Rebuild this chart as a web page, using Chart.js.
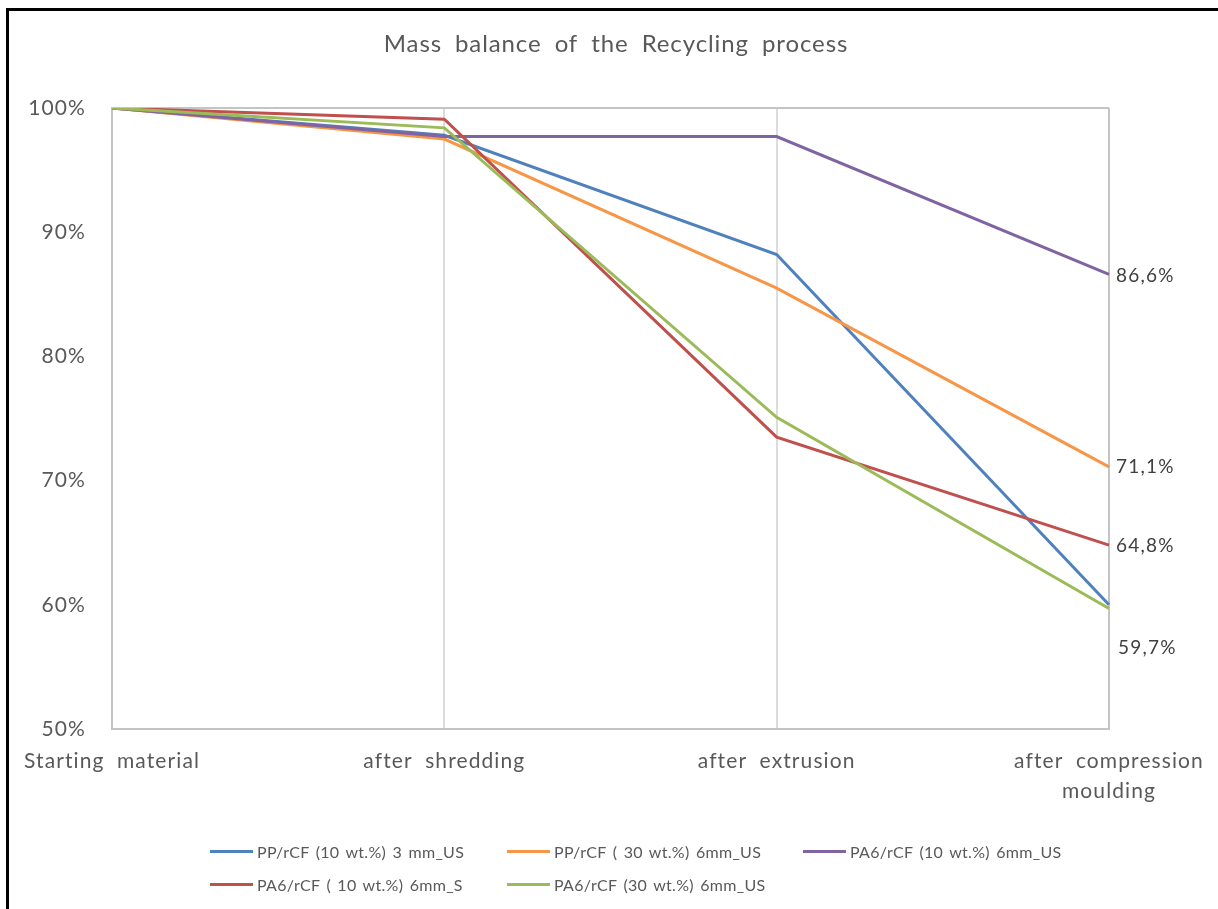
<!DOCTYPE html>
<html>
<head>
<meta charset="utf-8">
<script src="https://cdn.jsdelivr.net/npm/chart.js@4"></script>
<style>
  html, body { margin: 0; padding: 0; background: #fff; }
  #wrap { position: relative; width: 1218px; height: 909px; overflow: hidden; }
  #frame { position: absolute; left: 6px; top: 8px; width: 1300px; height: 1000px;
           border-left: 3px solid #000; border-top: 3px solid #000; box-sizing: border-box; pointer-events: none; }
  #chart { position: absolute; left: 0; top: 0; }
  #legend { position: absolute; left: 0; top: 0; width: 1218px; height: 909px; pointer-events: none;
            font-family: Lato, "Noto Sans", sans-serif; font-size: 16px; color: #595959;
            letter-spacing: 0.3px; word-spacing: 2px; }
  .item { position: absolute; display: flex; align-items: center; white-space: nowrap; }
  .swatch { width: 43px; height: 3px; margin-right: 4px; }
</style>
</head>
<body>
<div id="wrap">
  <canvas id="chart" width="1218" height="909"></canvas>
  <div id="legend"></div>
  <div id="frame"></div>
</div>
<script>
// Process stages along the x axis
const stages = ['Starting material', 'after shredding', 'after extrusion', ['after compression', 'moulding']];

// Remaining mass (%) after each stage, one array per material
const ppCf10_3mmUS  = [100, 97.8, 88.2, 60.0];
const ppCf30_6mmUS  = [100, 97.5, 85.5, 71.1];
const pa6Cf10_6mmUS = [100, 97.7, 97.7, 86.6];
const pa6Cf10_6mmS  = [100, 99.1, 73.5, 64.8];
const pa6Cf30_6mmUS = [100, 98.4, 75.1, 59.7];

const seriesNames = [
  'PP/rCF (10 wt.%) 3 mm_US',
  'PP/rCF ( 30 wt.%) 6mm_US',
  'PA6/rCF (10 wt.%) 6mm_US',
  'PA6/rCF ( 10 wt.%) 6mm_S',
  'PA6/rCF (30 wt.%) 6mm_US'
];
const seriesValues = [ppCf10_3mmUS, ppCf30_6mmUS, pa6Cf10_6mmUS, pa6Cf10_6mmS, pa6Cf30_6mmUS];
const yTicks = [50, 60, 70, 80, 90, 100];
const chartTitle = 'Mass balance of the Recycling process';

// Presentation
const colors = ['#4F81BD', '#F79646', '#8064A2', '#C0504D', '#9BBB59'];
// End-of-line value labels: which series get one, and their offset from the last point
const endLabels = [null, { dx: 7, dy: 0 }, { dx: 7, dy: 1 }, { dx: 7, dy: 1 }, { dx: 9, dy: 39 }];

const FONT = 'Lato, "Noto Sans", sans-serif';
const TEXT = '#595959';

const fmtPct = v => v.toFixed(1).replace('.', ',') + '%';

// Glyph spacing for axis text, plus the chart title
const textStylePlugin = {
  id: 'textStyle',
  beforeDraw(chart) {
    chart.ctx.letterSpacing = '1.1px';
    chart.ctx.wordSpacing = '6px';
  },
  afterDraw(chart) {
    const ctx = chart.ctx;
    ctx.save();
    ctx.font = '24px ' + FONT;
    ctx.letterSpacing = '0.9px';
    ctx.wordSpacing = '6px';
    ctx.fillStyle = TEXT;
    ctx.textAlign = 'center';
    ctx.textBaseline = 'middle';
    ctx.fillText(chartTitle, 616, 44);
    ctx.restore();
  }
};

const endLabelPlugin = {
  id: 'endLabels',
  afterDatasetsDraw(chart) {
    const ctx = chart.ctx;
    ctx.save();
    ctx.font = '19px ' + FONT;
    ctx.letterSpacing = '1.2px';
    ctx.fillStyle = '#404040';
    ctx.textAlign = 'left';
    ctx.textBaseline = 'middle';
    chart.data.datasets.forEach((ds, i) => {
      const lab = endLabels[i];
      if (!lab) return;
      const meta = chart.getDatasetMeta(i);
      const last = meta.data.length - 1;
      const pt = meta.data[last];
      ctx.fillText(fmtPct(ds.data[last]), pt.x + lab.dx, pt.y + lab.dy);
    });
    ctx.restore();
  }
};

const chart = new Chart(document.getElementById('chart'), {
  type: 'line',
  data: {
    labels: stages,
    datasets: seriesValues.map((vals, i) => ({
      label: seriesNames[i],
      data: vals,
      borderColor: colors[i],
      backgroundColor: colors[i],
      borderWidth: 3,
      pointRadius: 0,
      tension: 0,
      fill: false,
      order: seriesValues.length - i
    }))
  },
  options: {
    responsive: false,
    animation: false,
    layout: { padding: { left: 0, right: 109, top: 108, bottom: 100 } },
    plugins: {
      legend: { display: false },
      tooltip: { enabled: false },
      title: { display: false }
    },
    scales: {
      x: {
        type: 'category',
        offset: false,
        grid: {
          display: true,
          drawTicks: false,
          color: c => (c.index === 0 || c.index === stages.length - 1) ? '#c4c4c4' : '#dcdcdc',
          lineWidth: 2
        },
        border: { display: true, color: '#c4c4c4', width: 2 },
        ticks: {
          color: TEXT,
          font: { family: FONT, size: 21, lineHeight: 1.45 },
          padding: 17,
          maxRotation: 0,
          autoSkip: false
        },
        afterFit(s) { s.height = 80; s.paddingLeft = 0; s.paddingRight = 0; }
      },
      y: {
        min: 50,
        max: 100,
        afterBuildTicks(s) { s.ticks = yTicks.map(v => ({ value: v })); },
        grid: {
          display: true,
          drawTicks: false,
          color: c => (c.tick && c.tick.value === 100) ? '#c4c4c4' : 'rgba(0,0,0,0)',
          lineWidth: 2
        },
        border: { display: true, color: '#c4c4c4', width: 2 },
        ticks: {
          color: TEXT,
          font: { family: FONT, size: 21 },
          padding: 26,
          callback: v => v + '%'
        },
        afterFit(s) { s.width = 112; s.paddingTop = 0; s.paddingBottom = 0; }
      }
    }
  },
  plugins: [textStylePlugin, endLabelPlugin]
});

// Legend laid out in fixed columns, two rows
const legendPos = [
  { x: 210, y: 851 }, { x: 507, y: 851 }, { x: 803, y: 851 },
  { x: 210, y: 884 }, { x: 507, y: 884 }
];
const legendEl = document.getElementById('legend');
seriesNames.forEach((name, i) => {
  const item = document.createElement('div');
  item.className = 'item';
  item.style.left = legendPos[i].x + 'px';
  item.style.top = (legendPos[i].y - 11) + 'px';
  item.style.height = '22px';
  const sw = document.createElement('span');
  sw.className = 'swatch';
  sw.style.background = colors[i];
  const tx = document.createElement('span');
  tx.textContent = name;
  item.appendChild(sw);
  item.appendChild(tx);
  legendEl.appendChild(item);
});
</script>
</body>
</html>
